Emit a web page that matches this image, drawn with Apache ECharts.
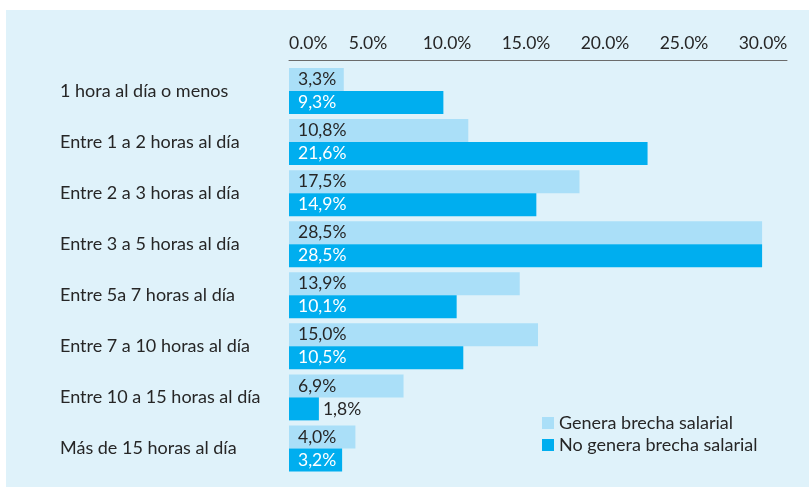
<!DOCTYPE html>
<html>
<head>
<meta charset="utf-8">
<script src="https://cdn.jsdelivr.net/npm/echarts@6/dist/echarts.min.js"></script>
<style>
html,body{margin:0;padding:0;background:#ffffff;}
#chart{width:810px;height:487px;}
</style>
</head>
<body>
<div id="chart"></div>
<script>
const categories = [
  '1 hora al día o menos',
  'Entre 1 a 2 horas al día',
  'Entre 2 a 3 horas al día',
  'Entre 3 a 5 horas al día',
  'Entre 5a 7 horas al día',
  'Entre 7 a 10 horas al día',
  'Entre 10 a 15 horas al día',
  'Más de 15 horas al día'
];
const seriesNames = ['Genera brecha salarial', 'No genera brecha salarial'];
const genera = [3.3, 10.8, 17.5, 28.5, 13.9, 15.0, 6.9, 4.0];
const noGenera = [9.3, 21.6, 14.9, 28.5, 10.1, 10.5, 1.8, 3.2];
const tickLabels = ['0.0%', '5.0%', '10.0%', '15.0%', '20.0%', '25.0%', '30.0%'];

const FONT = 'Lato';
const DARK = '#262626';
const fmt = v => v.toFixed(1).replace('.', ',') + '%';

const chart = echarts.init(document.getElementById('chart'));

const noGeneraData = noGenera.map(v => {
  if (v < 3) {
    return { value: v, label: { position: 'right', distance: 4, color: DARK } };
  }
  return v;
});

chart.setOption({
  animation: false,
  backgroundColor: '#ffffff',
  textStyle: { fontFamily: FONT },
  graphic: [{
    type: 'rect', z: -10, silent: true,
    shape: { x: 6, y: 10, width: 803, height: 477 },
    style: { fill: '#dff2fa' }
  }],
  grid: [
    { left: 289, right: 23, top: 65.5, bottom: 13, containLabel: false },
    { left: 289, width: 474, top: 65.5, bottom: 13, containLabel: false }
  ],
  legend: {
    orient: 'vertical',
    left: 542, top: 414, padding: 0,
    itemWidth: 12, itemHeight: 12, itemGap: 4,
    icon: 'rect',
    textStyle: { fontFamily: FONT, fontSize: 18, color: DARK },
    data: seriesNames
  },
  xAxis: [
    {
      gridIndex: 0, type: 'value', position: 'top', offset: 5,
      min: 0, max: 30, interval: 5,
      axisLine: { show: true, lineStyle: { color: '#6b6b6b', width: 1 } },
      axisTick: { show: false },
      axisLabel: { show: false },
      splitLine: { show: false }
    },
    {
      gridIndex: 1, type: 'value', position: 'top', offset: 5,
      min: 0, max: 30, interval: 5,
      axisLine: { show: false },
      axisTick: { show: false },
      splitLine: { show: false },
      axisLabel: {
        show: true, margin: 8, fontFamily: FONT, fontSize: 17.5, color: DARK,
        alignMinLabel: 'left',
        formatter: v => tickLabels[Math.round(v / 5)]
      }
    }
  ],
  yAxis: [
    {
      gridIndex: 0, type: 'category', inverse: true, data: categories,
      axisLine: { show: false }, axisTick: { show: false },
      axisLabel: { align: 'left', margin: 229, fontFamily: FONT, fontSize: 18, color: DARK }
    },
    {
      gridIndex: 1, type: 'category', inverse: true, data: categories, show: false
    }
  ],
  series: [
    {
      name: seriesNames[0], type: 'bar', xAxisIndex: 0, yAxisIndex: 0,
      data: genera, barGap: '0%', barCategoryGap: '10%',
      itemStyle: { color: '#aadff8' },
      label: { show: true, position: 'insideLeft', distance: 9, color: DARK,
               fontFamily: FONT, fontSize: 17.5, formatter: p => fmt(p.value) }
    },
    {
      name: seriesNames[1], type: 'bar', xAxisIndex: 0, yAxisIndex: 0,
      data: noGeneraData, barGap: '0%', barCategoryGap: '10%',
      itemStyle: { color: '#00aeef' },
      label: { show: true, position: 'insideLeft', distance: 9, color: '#ffffff',
               fontFamily: FONT, fontSize: 17.5, formatter: p => fmt(p.value) }
    }
  ]
});
</script>
</body>
</html>
